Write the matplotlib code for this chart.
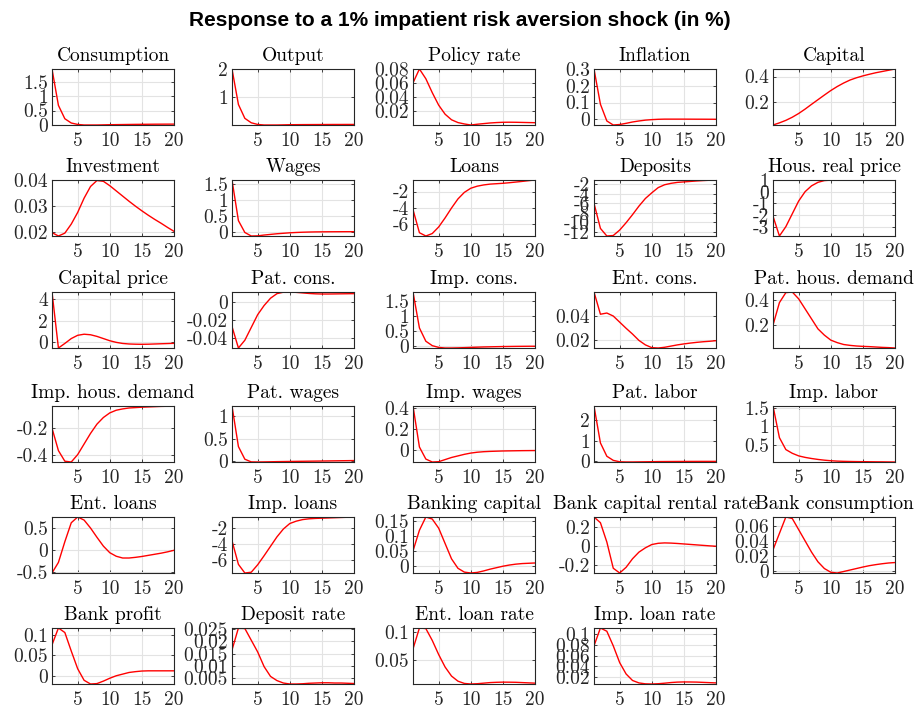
import matplotlib
matplotlib.use("Agg")
import matplotlib.pyplot as plt
from matplotlib.ticker import FuncFormatter

plt.rcParams.update({
    "font.family": "cmr10",
    "mathtext.fontset": "cm",
    "axes.unicode_minus": False,
    "axes.formatter.use_mathtext": True,
})

# Horizon (quarters)
horizon = list(range(1, 21))

consumption = [1.96, 0.68, 0.21, 0.06, 0.01, -0.01, -0.01, -0.01, -0.005, 0.0,
               0.003, 0.006, 0.009, 0.012, 0.014, 0.016, 0.018, 0.019, 0.02, 0.021]
output = [2.0, 0.72, 0.22, 0.06, 0.0, -0.02, -0.02, -0.02, -0.015, -0.01,
          -0.008, -0.006, -0.005, -0.004, -0.003, -0.002, -0.001, -0.001, 0.0, 0.0]
policy_rate = [0.060, 0.080, 0.066, 0.046, 0.028, 0.015, 0.007, 0.003, 0.001, -0.0005,
               0.0006, 0.0015, 0.0024, 0.003, 0.0034, 0.0035, 0.0034, 0.0032, 0.003, 0.0028]
inflation = [0.30, 0.09, -0.01, -0.034, -0.031, -0.024, -0.016, -0.01, -0.005, -0.002,
             0.0, 0.001, 0.001, 0.001, 0.001, 0.0008, 0.0006, 0.0005, 0.0003, 0.0002]
capital = [0.013, 0.03, 0.05, 0.075, 0.105, 0.14, 0.178, 0.215, 0.252, 0.288,
           0.32, 0.348, 0.372, 0.39, 0.405, 0.418, 0.43, 0.44, 0.45, 0.46]
investment = [0.0197, 0.0184, 0.0195, 0.0230, 0.0275, 0.0330, 0.0375, 0.0398, 0.0395, 0.0378,
              0.0358, 0.0338, 0.0318, 0.0299, 0.0281, 0.0264, 0.0248, 0.0233, 0.0217, 0.0202]
wages = [1.62, 0.35, -0.02, -0.13, -0.125, -0.1, -0.08, -0.06, -0.045, -0.03,
         -0.02, -0.012, -0.006, -0.002, 0.0, 0.002, 0.003, 0.004, 0.005, 0.005]
loans = [-4.2, -7.0, -7.4, -7.1, -6.3, -5.2, -4.0, -2.9, -2.1, -1.6,
         -1.35, -1.2, -1.1, -1.05, -1.0, -0.93, -0.85, -0.77, -0.68, -0.6]
deposits = [-6.0, -11.3, -12.9, -12.8, -11.65, -10.1, -8.4, -6.6, -5.0, -3.8,
            -2.7, -2.1, -1.8, -1.6, -1.5, -1.4, -1.3, -1.22, -1.15, -1.1]
hous_price = [-2.1, -3.8, -3.0, -1.9, -0.8, 0.0, 0.5, 0.8, 0.95, 0.99,
              1.0, 1.0, 1.0, 1.0, 1.0, 1.0, 1.0, 1.0, 1.0, 1.0]
capital_price = [4.64, -0.52, -0.1, 0.35, 0.65, 0.75, 0.7, 0.55, 0.35, 0.15,
                 0.0, -0.1, -0.15, -0.17, -0.18, -0.17, -0.15, -0.13, -0.11, -0.09]
pat_cons = [-0.027, -0.0505, -0.042, -0.028, -0.014, -0.004, 0.004, 0.009, 0.0106, 0.0108,
            0.0104, 0.0098, 0.0092, 0.0088, 0.0086, 0.0086, 0.0087, 0.0088, 0.0089, 0.009]
imp_cons = [1.82, 0.6, 0.15, 0.0, -0.06, -0.08, -0.08, -0.075, -0.068, -0.06,
            -0.052, -0.045, -0.04, -0.035, -0.031, -0.028, -0.025, -0.023, -0.021, -0.02]
ent_cons = [0.060, 0.0415, 0.0425, 0.0400, 0.0349, 0.0298, 0.0250, 0.0197, 0.0160, 0.0137,
            0.0134, 0.0140, 0.0150, 0.0160, 0.0168, 0.0175, 0.0181, 0.0186, 0.0190, 0.0195]
pat_hous = [0.2, 0.38, 0.46, 0.465, 0.41, 0.33, 0.25, 0.17, 0.12, 0.08,
            0.06, 0.045, 0.038, 0.033, 0.03, 0.028, 0.025, 0.022, 0.02, 0.017]
imp_hous = [-0.2, -0.37, -0.45, -0.456, -0.4, -0.32, -0.24, -0.17, -0.12, -0.085,
            -0.065, -0.055, -0.048, -0.045, -0.042, -0.04, -0.038, -0.036, -0.035, -0.033]
pat_wages = [1.23, 0.33, 0.05, -0.01, -0.012, -0.01, -0.007, -0.004, -0.002, 0.0,
             0.002, 0.004, 0.006, 0.008, 0.01, 0.012, 0.014, 0.016, 0.018, 0.02]
imp_wages = [0.42, 0.03, -0.085, -0.113, -0.11, -0.09, -0.07, -0.055, -0.04, -0.028,
             -0.02, -0.015, -0.012, -0.01, -0.008, -0.007, -0.006, -0.005, -0.0045, -0.004]
pat_labor = [2.7, 0.9, 0.25, 0.05, -0.02, -0.03, -0.03, -0.025, -0.02, -0.015,
             -0.01, -0.008, -0.006, -0.004, -0.003, -0.002, -0.001, 0.0, 0.0, 0.0]
imp_labor = [1.55, 0.7, 0.38, 0.28, 0.21, 0.17, 0.14, 0.115, 0.095, 0.08,
             0.07, 0.064, 0.06, 0.057, 0.055, 0.053, 0.051, 0.05, 0.048, 0.046]
ent_loans = [-0.52, -0.28, 0.19, 0.62, 0.75, 0.68, 0.5, 0.29, 0.09, -0.06,
             -0.14, -0.18, -0.18, -0.165, -0.145, -0.12, -0.095, -0.07, -0.04, -0.005]
imp_loans = [-3.6, -6.6, -7.7, -7.6, -6.65, -5.5, -4.3, -3.1, -2.1, -1.4,
             -1.1, -0.9, -0.8, -0.75, -0.72, -0.69, -0.66, -0.63, -0.6, -0.57]
bank_capital = [0.05, 0.12, 0.165, 0.158, 0.127, 0.075, 0.023, -0.009, -0.022, -0.025,
                -0.023, -0.018, -0.012, -0.007, -0.002, 0.002, 0.005, 0.007, 0.008, 0.009]
bank_rental = [0.31, 0.25, 0.046, -0.23, -0.28, -0.22, -0.13, -0.06, -0.015, 0.02,
               0.033, 0.037, 0.035, 0.031, 0.026, 0.021, 0.016, 0.011, 0.006, 0.002]
bank_cons = [0.028, 0.05, 0.072, 0.07, 0.055, 0.04, 0.025, 0.012, 0.003, -0.002,
             -0.003, -0.001, 0.001, 0.003, 0.005, 0.0068, 0.0082, 0.0094, 0.0104, 0.011]
bank_profit = [0.075, 0.116, 0.105, 0.06, 0.017, -0.011, -0.02, -0.019, -0.013, -0.006,
               0.0, 0.004, 0.008, 0.01, 0.0115, 0.012, 0.012, 0.012, 0.012, 0.012]
deposit_rate = [0.0165, 0.0255, 0.0253, 0.0205, 0.0157, 0.0097, 0.0057, 0.0040, 0.0030, 0.0026,
                0.0026, 0.0027, 0.0029, 0.0030, 0.0031, 0.0031, 0.0030, 0.0030, 0.0029, 0.0028]
ent_loan_rate = [0.07, 0.107, 0.106, 0.085, 0.06, 0.038, 0.022, 0.013, 0.009, 0.008,
                 0.0085, 0.0095, 0.0105, 0.011, 0.0113, 0.0112, 0.011, 0.0105, 0.01, 0.0095]
imp_loan_rate = [0.078, 0.111, 0.105, 0.078, 0.047, 0.026, 0.014, 0.0095, 0.0078, 0.0075,
                 0.008, 0.009, 0.0102, 0.011, 0.0113, 0.0112, 0.011, 0.0105, 0.01, 0.0095]

titles = ["Consumption", "Output", "Policy rate", "Inflation", "Capital",
          "Investment", "Wages", "Loans", "Deposits", "Hous. real price",
          "Capital price", "Pat. cons.", "Imp. cons.", "Ent. cons.", "Pat. hous. demand",
          "Imp. hous. demand", "Pat. wages", "Imp. wages", "Pat. labor", "Imp. labor",
          "Ent. loans", "Imp. loans", "Banking capital", "Bank capital rental rate",
          "Bank consumption",
          "Bank profit", "Deposit rate", "Ent. loan rate", "Imp. loan rate"]

series = [consumption, output, policy_rate, inflation, capital,
          investment, wages, loans, deposits, hous_price,
          capital_price, pat_cons, imp_cons, ent_cons, pat_hous,
          imp_hous, pat_wages, imp_wages, pat_labor, imp_labor,
          ent_loans, imp_loans, bank_capital, bank_rental, bank_cons,
          bank_profit, deposit_rate, ent_loan_rate, imp_loan_rate]

yticks = [[0, 0.5, 1, 1.5], [1, 2], [0.02, 0.04, 0.06, 0.08], [0, 0.1, 0.2, 0.3], [0.2, 0.4],
          [0.02, 0.03, 0.04], [0, 0.5, 1, 1.5], [-6, -4, -2], [-12, -10, -8, -6, -4, -2],
          [-3, -2, -1, 0, 1],
          [0, 2, 4], [-0.04, -0.02, 0], [0, 0.5, 1, 1.5], [0.02, 0.04], [0.2, 0.4],
          [-0.4, -0.2], [0, 0.5, 1], [0, 0.2, 0.4], [0, 1, 2], [0.5, 1, 1.5],
          [-0.5, 0, 0.5], [-6, -4, -2], [0, 0.05, 0.1, 0.15], [-0.2, 0, 0.2],
          [0, 0.02, 0.04, 0.06],
          [0, 0.05, 0.1], [0.005, 0.01, 0.015, 0.02, 0.025], [0.05, 0.1],
          [0.02, 0.04, 0.06, 0.08, 0.1]]

xticks = [5, 10, 15, 20]

W, H = 920, 710
fig = plt.figure(figsize=(W / 100, H / 100), dpi=100)

col_left = [52, 232, 413, 594, 773]
row_top = [69, 180, 292, 406, 517, 628]
ax_w, ax_h = 122, 56

fmt = FuncFormatter(lambda v, p: "%g" % v)

for i, (name, y) in enumerate(zip(titles, series)):
    r, c = divmod(i, 5)
    left, top = col_left[c], row_top[r]
    ax = fig.add_axes([left / W, 1 - (top + ax_h) / H, ax_w / W, ax_h / H])
    ax.plot(horizon, y, color="#ff0000", lw=1.0)
    ax.set_xlim(1, 20)
    ax.set_ylim(min(y), max(y))
    ax.set_xticks(xticks)
    ax.set_yticks(yticks[i])
    ax.yaxis.set_major_formatter(fmt)
    ax.xaxis.set_major_formatter(fmt)
    ax.grid(True, color="#e3e3e3", lw=0.8)
    ax.set_axisbelow(True)
    for s in ax.spines.values():
        s.set_color("#262626")
        s.set_linewidth(0.8)
    ax.tick_params(direction="in", length=2.5, width=0.6, top=True, right=True,
                   labelsize=14, colors="#262626")
    ax.tick_params(axis="x", pad=5)
    ax.tick_params(axis="y", pad=3)
    ax.set_title(name, fontsize=14, pad=5.5)

fig.text(0.5, 1 - 20 / H, "Response to a 1% impatient risk aversion shock (in %)",
         ha="center", va="center", fontsize=15, fontweight="bold",
         family="Liberation Sans")

fig.savefig("out.png", dpi=100)
